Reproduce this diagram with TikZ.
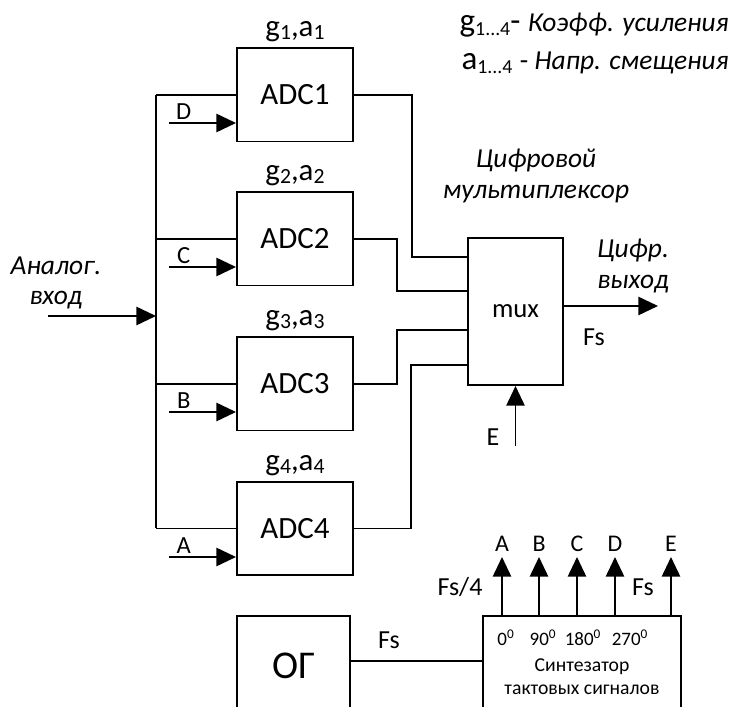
\documentclass[tikz,border=0pt]{standalone}
\usepackage{fontspec}
\usepackage{graphicx}
\setmainfont{Carlito}
\usetikzlibrary{arrows.meta, positioning, calc}
\newcommand{\lowsub}[1]{\raisebox{-0.2ex}{\scalebox{0.7}{#1}}}
\newcommand{\legsub}[1]{\raisebox{-0.25ex}{\scalebox{0.6}{#1}}}
\tikzset{
  adc/.style={rectangle, draw, line width=1.4pt, minimum width=2.9cm,
    minimum height=2.325cm, font=\fontsize{22}{26}\selectfont},
  muxbox/.style={rectangle, draw, line width=1.4pt, minimum width=2.375cm,
    minimum height=3.675cm, font=\fontsize{19}{22}\selectfont},
  galbl/.style={font=\fontsize{22}{26}\selectfont, inner sep=2pt},
  lbl/.style={font=\fontsize{17.5}{20}\selectfont, inner sep=2pt},
  toplbl/.style={font=\fontsize{17}{19}\selectfont, inner sep=2pt},
  fslbl/.style={font=\fontsize{18.5}{22}\selectfont, inner sep=2pt},
  itlbl/.style={font=\fontsize{19.5}{21.5}\selectfont\itshape, align=center},
  deglbl/.style={font=\fontsize{13.5}{16}\selectfont, inner sep=1pt},
  wire/.style={line width=1.4pt},
  arrow/.style={-{Triangle[length=14pt, width=13pt]}, line width=1.4pt}
}
\begin{document}
\begin{tikzpicture}[x=0.025cm, y=-0.025cm]
  \useasboundingbox (0,0) rectangle (731,707);
  \clip (0,0) rectangle (731,707);

  % ADC blocks
  \node[adc] (adc1) at (295,95) {ADC1};
  \node[adc] (adc2) at (295,239) {ADC2};
  \node[adc] (adc3) at (295,384) {ADC3};
  \node[adc] (adc4) at (295,528.5) {ADC4};
  \node[galbl, above=1.5pt of adc1] {g\lowsub{1},a\lowsub{1}};
  \node[galbl, above=1.5pt of adc2] {g\lowsub{2},a\lowsub{2}};
  \node[galbl, above=1.5pt of adc3] {g\lowsub{3},a\lowsub{3}};
  \node[galbl, above=1.5pt of adc4] {g\lowsub{4},a\lowsub{4}};

  % analog input and bus
  \coordinate (bus) at (156,316);
  \coordinate (ain) at (48,316);
  \node[itlbl] (ainlbl) at (56,283) {Аналог.\\вход};
  \draw[arrow] (ain) -- (bus);
  \draw[wire] (bus |- adc1.west) -- (bus |- adc4.west);
  \draw[wire] (bus |- adc1.west) -- (adc1.west);
  \draw[wire] (bus |- adc2.west) -- (adc2.west);
  \draw[wire] (bus |- adc3.west) -- (adc3.west);
  \draw[wire] (bus |- adc4.west) -- (adc4.west);

  % clock inputs
  \coordinate (clkD) at ($(adc1.west)+(-67,28)$);
  \coordinate (clkC) at ($(adc2.west)+(-67,28)$);
  \coordinate (clkB) at ($(adc3.west)+(-67,28)$);
  \coordinate (clkA) at ($(adc4.west)+(-67,28.5)$);
  \draw[arrow] (clkD) -- (clkD -| adc1.west) node[lbl, pos=0.22, above] {D};
  \draw[arrow] (clkC) -- (clkC -| adc2.west) node[lbl, pos=0.22, above] {C};
  \draw[arrow] (clkB) -- (clkB -| adc3.west) node[lbl, pos=0.22, above] {B};
  \draw[arrow] (clkA) -- (clkA -| adc4.west) node[lbl, pos=0.22, above] {A};

  % multiplexer
  \node[muxbox] (mux) at (515.5,311.5) {mux};
  \node[itlbl] (muxlbl) at (536,176) {Цифровой\\мультиплексор};
  \coordinate (in1) at ($(mux.north west)+(0,20)$);
  \coordinate (in2) at ($(mux.north west)+(0,54)$);
  \coordinate (in3) at ($(mux.north west)+(0,93)$);
  \coordinate (in4) at ($(mux.north west)+(0,128)$);
  \draw[wire] (adc1.east) -- ++(58,0) |- (in1);
  \draw[wire] (adc2.east) -- ++(43,0) |- (in2);
  \draw[wire] (adc3.east) -- ++(43,0) |- (in3);
  \draw[wire] (adc4.east) -- ++(57,0) |- (in4);

  \coordinate (dout) at (658,306);
  \draw[arrow] (mux.east |- dout) -- (dout);
  \node[itlbl] (doutlbl) at (633,266) {Цифр.\\выход};
  \node[fslbl] at (594,337) {Fs};
  \coordinate (ein) at ($(mux.south)+(0,60)$);
  \draw[arrow] (ein) -- (mux.south);
  \node[fslbl] at (493,437) {E};

  % legend
  \node[anchor=base east, inner sep=0pt] at (729,32)
    {\fontsize{23.5}{26}\selectfont g\legsub{1...4}-
     {\fontsize{19.5}{22}\selectfont\itshape Коэфф. усиления}};
  \node[anchor=base east, inner sep=0pt] at (729,70)
    {\fontsize{23.5}{26}\selectfont a\legsub{1...4}
     {\fontsize{19.5}{22}\selectfont - \itshape Напр. смещения}};

  % generator and clock synthesizer
  \node[rectangle, draw, line width=1.4pt, minimum width=2.825cm,
    minimum height=2.5cm, font=\fontsize{28}{32}\selectfont] (og) at (293.5,666) {ОГ};
  \node[rectangle, draw, line width=1.4pt, minimum width=4.95cm,
    minimum height=2.75cm] (syn) at (582,671) {};
  \coordinate (fsline) at ($(og.east)+(0,-5)$);
  \draw[wire] (fsline) -- (fsline -| syn.west) node[fslbl, pos=0.29, above=6pt] {Fs};

  \node[deglbl] at (506,638) {0\textsuperscript{0}};
  \node[deglbl] at (543,638) {90\textsuperscript{0}};
  \node[deglbl] at (583,638) {180\textsuperscript{0}};
  \node[deglbl] at (630,638) {270\textsuperscript{0}};
  \node[font=\fontsize{14}{16.4}\selectfont, align=center] at (582,676.5)
    {Синтезатор\\тактовых сигналов};

  \coordinate (tA) at (502,557);
  \coordinate (tB) at (539,557);
  \coordinate (tC) at (577,557);
  \coordinate (tD) at (615,557);
  \coordinate (tE) at (671,557);
  \draw[arrow] (tA |- syn.north) -- (tA) node[toplbl, above=1pt] {A};
  \draw[arrow] (tB |- syn.north) -- (tB) node[toplbl, above=1pt] {B};
  \draw[arrow] (tC |- syn.north) -- (tC) node[toplbl, above=1pt] {C};
  \draw[arrow] (tD |- syn.north) -- (tD) node[toplbl, above=1pt] {D};
  \draw[arrow] (tE |- syn.north) -- (tE) node[toplbl, above=1pt] {E};
  \node[fslbl] at (460,587) {Fs/4};
  \node[fslbl] at (643,587) {Fs};
\end{tikzpicture}
\end{document}
